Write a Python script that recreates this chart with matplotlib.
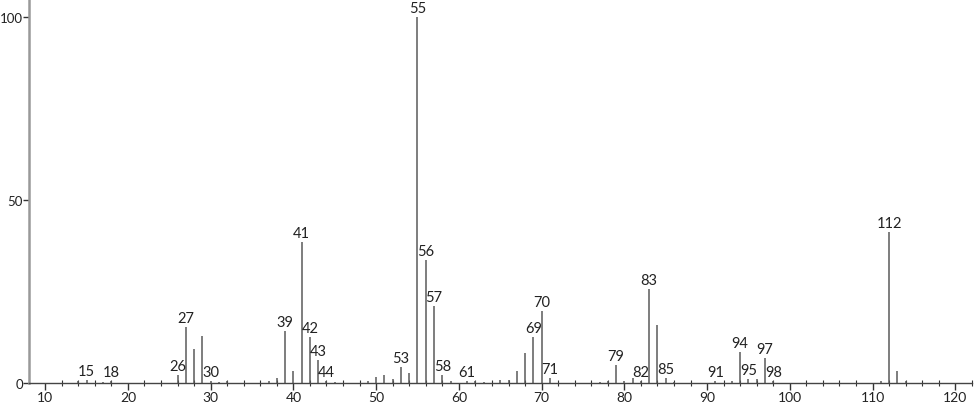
import matplotlib.pyplot as plt
import numpy as np
from matplotlib.ticker import MultipleLocator

# m/z and relative intensity
mz = [14, 15, 17, 18, 26, 27, 28, 29, 30, 31, 32, 37, 38, 39, 40, 41, 42, 43, 44, 45,
      49, 50, 51, 52, 53, 54, 55, 56, 57, 58, 59, 61, 62, 63, 65, 66, 67, 68, 69, 70,
      71, 77, 78, 79, 80, 81, 82, 83, 84, 85, 86, 91, 93, 94, 95, 96, 97, 98,
      111, 112, 113, 114]
intensity = [0.5, 0.8, 0.4, 0.6, 2.2, 15.3, 9.3, 12.8, 0.6, 0.4, 0.5, 0.5, 1.4, 14.3, 3.3, 38.5, 12.7, 6.3, 0.6, 0.4,
             0.5, 1.6, 2.2, 1.1, 4.5, 2.7, 100.0, 33.7, 21.0, 2.2, 0.5, 0.6, 0.5, 0.4, 0.8, 0.8, 3.3, 8.2, 12.6, 19.8,
             1.4, 0.4, 0.6, 4.9, 0.5, 1.4, 0.5, 25.6, 15.8, 1.4, 0.4, 0.5, 0.5, 8.5, 1.1, 1.1, 6.8, 0.5,
             0.5, 41.3, 3.4, 0.5]
labeled = [15, 18, 26, 27, 30, 39, 41, 42, 43, 44, 53, 55, 56, 57, 58, 61, 69, 70, 71,
           79, 82, 83, 85, 91, 94, 95, 97, 98, 112]

plt.rcParams["font.family"] = ["Lato", "DejaVu Sans"]

fig = plt.figure(figsize=(9.74, 4.06), dpi=100)
ax = fig.add_axes([0.0298, 0.054, 0.968, 0.946])

ax.vlines(mz, 0, intensity, colors="#5a5a5a", lw=1.1)
lookup = dict(zip(mz, intensity))
for m in labeled:
    ax.annotate(str(m), (m, lookup[m]), xytext=(0, 1.5), textcoords="offset points",
                ha="center", va="bottom", fontsize=10.5, color="#222222")

ax.set_xlim(8.05, 122)
ax.set_ylim(0, 105)
ax.set_xticks(np.arange(10, 121, 10))
ax.xaxis.set_minor_locator(MultipleLocator(2))
ax.set_yticks([0, 50, 100])
ax.tick_params(axis="x", which="major", direction="out", length=5, width=1, colors="#333333",
               labelsize=10, pad=1)
ax.tick_params(axis="x", which="minor", direction="inout", length=5, width=0.8, colors="#333333")
ax.tick_params(axis="y", which="major", direction="out", length=4, width=1, colors="#333333",
               labelsize=9.5, pad=0.3)
for lab in ax.get_xticklabels() + ax.get_yticklabels():
    lab.set_color("#222222")

ax.spines["top"].set_visible(False)
ax.spines["right"].set_visible(False)
ax.spines["left"].set_color("#999999")
ax.spines["left"].set_linewidth(1.8)
ax.spines["bottom"].set_color("#444444")
ax.spines["bottom"].set_linewidth(1.0)

fig.savefig("out.png", dpi=100)
